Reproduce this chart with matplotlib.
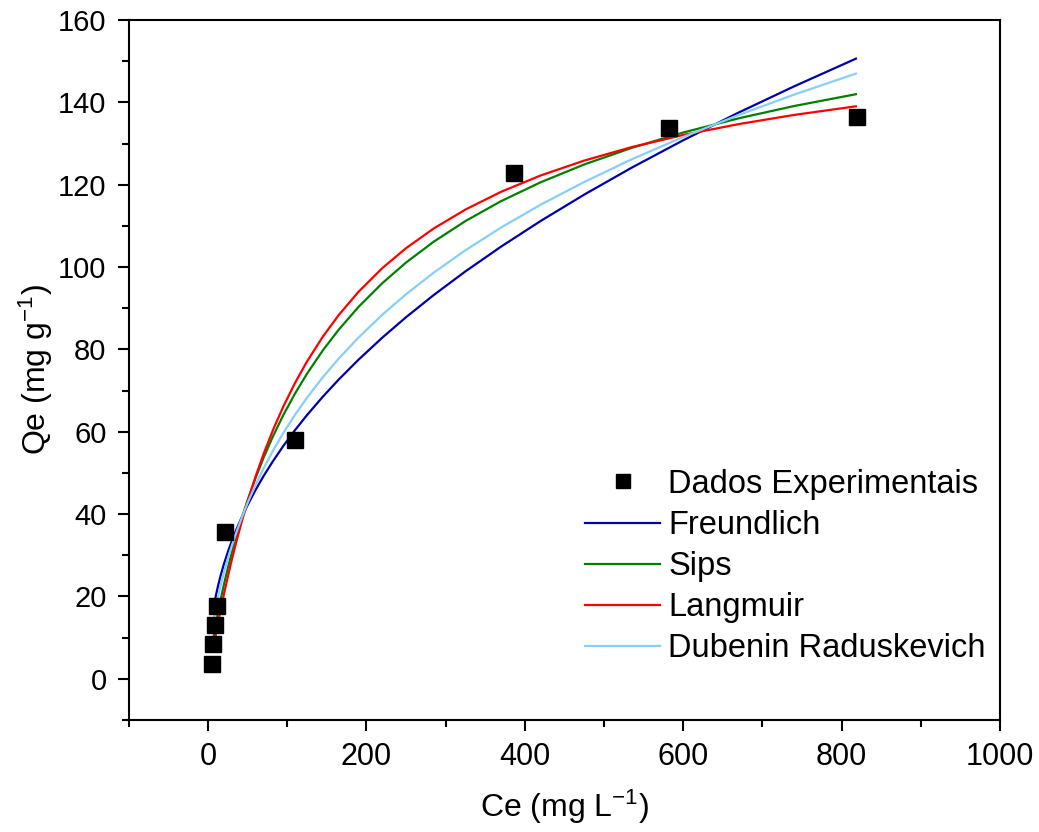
import matplotlib
matplotlib.use("Agg")
import matplotlib.pyplot as plt
from matplotlib.ticker import MultipleLocator

plt.rcParams["font.family"] = ["Liberation Sans", "DejaVu Sans"]
plt.rcParams["mathtext.default"] = "regular"

# experimental equilibrium data
ce_exp = [5.5, 6.5, 9.0, 11.0, 22.0, 110.0, 386.0, 582.0, 819.0]
qe_exp = [3.6, 8.5, 13.1, 17.6, 35.6, 57.9, 122.9, 133.7, 136.5]

# fitted isotherm curves (Ce in mg/L, Qe in mg/g)
ce_fit = [6, 8, 10, 13, 16, 20, 25, 30, 36, 43, 50, 60, 70, 82, 95, 110, 125, 145,
          165, 190, 220, 250, 285, 325, 370, 420, 475, 535, 600, 670, 740, 818]
qe_freundlich = [16.09, 18.34, 20.30, 22.87, 25.14, 27.83, 30.80, 33.46, 36.36, 39.42,
                 42.22, 45.87, 49.21, 52.87, 56.54, 60.44, 64.06, 68.53, 72.68, 77.50,
                 82.85, 87.82, 93.21, 98.95, 104.96, 111.19, 117.59, 124.14, 130.79,
                 137.52, 143.88, 150.60]
qe_sips = [8.91, 11.23, 13.40, 16.45, 19.30, 22.83, 26.90, 30.67, 34.83, 39.31,
           43.43, 48.78, 53.63, 58.90, 64.03, 69.34, 74.11, 79.78, 84.79, 90.32,
           96.08, 101.09, 106.16, 111.17, 116.00, 120.59, 124.91, 128.94, 132.67,
           136.12, 139.10, 141.97]
qe_langmuir = [6.74, 8.87, 10.94, 13.93, 16.82, 20.49, 24.83, 28.92, 33.51, 38.48,
               43.08, 49.10, 54.54, 60.41, 66.10, 71.92, 77.08, 83.11, 88.34, 93.99,
               99.73, 104.58, 109.37, 113.96, 118.27, 122.24, 125.85, 129.13, 132.07,
               134.71, 136.94, 139.03]
qe_dr = [13.07, 15.35, 17.40, 20.17, 22.69, 25.73, 29.16, 32.29, 35.72, 39.37,
         42.73, 47.09, 51.07, 55.40, 59.69, 64.18, 68.28, 73.26, 77.77, 82.88,
         88.41, 93.39, 98.65, 104.08, 109.60, 115.14, 120.66, 126.16, 131.58,
         136.93, 141.87, 146.98]

fig = plt.figure(figsize=(10.39, 8.32), dpi=100)
ax = fig.add_axes([0.124, 0.1346, 0.8385, 0.8414])

ax.plot(ce_exp, qe_exp, "s", color="black", markersize=11.5, label="Dados Experimentais", zorder=5)
ax.plot(ce_fit, qe_freundlich, color="#0000a8", lw=1.6, label="Freundlich")
ax.plot(ce_fit, qe_sips, color="#008000", lw=1.6, label="Sips")
ax.plot(ce_fit, qe_langmuir, color="#ff0000", lw=1.6, label="Langmuir")
ax.plot(ce_fit, qe_dr, color="#87cefa", lw=1.6, label="Dubenin Raduskevich")

ax.set_xlim(-100, 1000)
ax.set_ylim(-10, 160)
ax.xaxis.set_major_locator(MultipleLocator(200))
ax.xaxis.set_minor_locator(MultipleLocator(100))
ax.yaxis.set_major_locator(MultipleLocator(20))
ax.yaxis.set_minor_locator(MultipleLocator(10))

for s in ax.spines.values():
    s.set_linewidth(1.5)
ax.tick_params(which="major", direction="out", length=8, width=1.5)
ax.tick_params(which="minor", direction="out", length=5, width=1.5)
ax.tick_params(axis="x", labelsize=22, pad=8)
ax.tick_params(axis="y", labelsize=21, pad=8)

ax.set_xlabel("Ce (mg L$^{-1}$)", fontsize=23, labelpad=11)
ax.set_ylabel("Qe (mg g$^{-1}$)", fontsize=23, labelpad=2.5)

ax.legend(loc="upper left", bbox_to_anchor=(0.505, 0.382), frameon=False, fontsize=23.5,
          borderpad=0, handlelength=2.3, handletextpad=0.25, labelspacing=0.31,
          markerscale=0.9)

fig.savefig("out.png", dpi=100)
